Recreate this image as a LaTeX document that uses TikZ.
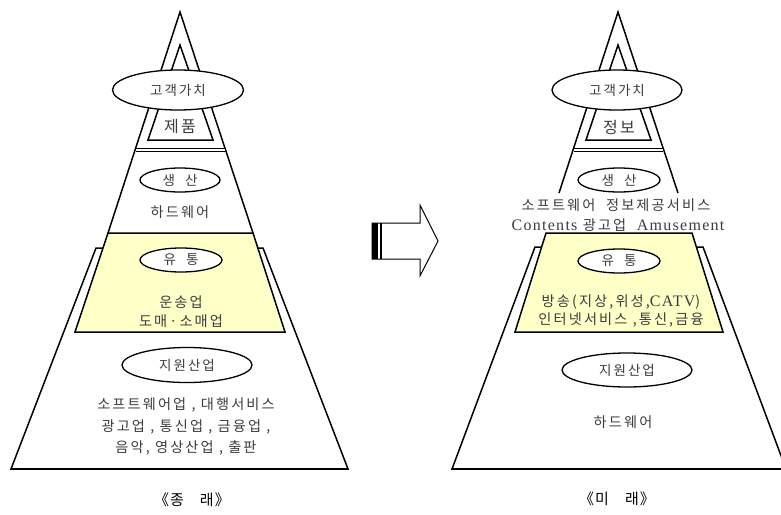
\documentclass[tikz,border=0pt]{standalone}
\usepackage{fontspec}
\setmainfont{Noto Sans CJK KR}
\newfontfamily\kr[LetterSpace=15]{Noto Sans CJK KR}
\newfontfamily\latf[LetterSpace=8]{Liberation Serif}
\usetikzlibrary{shapes.geometric}
\definecolor{paleyellow}{RGB}{255,255,200}
\definecolor{txtgray}{RGB}{60,60,60}
\tikzset{
  edge/.style={line width=1.5pt, black, line join=miter},
  baseline/.style={line width=2.6pt, black},
  oval/.style={ellipse, draw, line width=1.3pt, fill=white, inner sep=0pt, text=txtgray, font=\kr\fontsize{13.5}{15}\selectfont},
  lbl/.style={text=txtgray, font=\kr\fontsize{14.2}{16}\selectfont, inner sep=0pt, align=center},
  biglbl/.style={text=txtgray, font=\kr\fontsize{16}{18}\selectfont, inner sep=0pt},
  capt/.style={text=black, font=\fontsize{15}{17}\selectfont, inner sep=0pt},
  latn/.style={font=\latf\fontsize{16}{18}\selectfont},
}
\begin{document}
\begin{tikzpicture}[x=1pt,y=-1pt]
\useasboundingbox (0,0) rectangle (781,514);
\clip (0,0) rectangle (781,514);
% ================= LEFT PYRAMID =================
\draw[edge, fill=white] (96,248) -- (263,248) -- (348,469) -- (11,469) -- cycle;
\draw[baseline] (11,469) -- (348,469);
\draw[edge, fill=paleyellow] (108,233) -- (253,233) -- (285,332) -- (75,332) -- cycle;
\draw[edge] (108,233) -- (180,12) -- (253,233);
\draw[edge] (180,45) -- (148,140) -- (213,140) -- cycle;
\draw[line width=0.9pt, double distance=1.4pt] (136,150) -- (225,150);
\node[oval, minimum width=131pt, minimum height=40pt] (lval) at (178,90) {고객가치};
\node[biglbl] (lprod) at (180,127) {제품};
\node[oval, minimum width=80pt, minimum height=24pt] (lprd) at (180,180) {생\ \ 산};
\node[lbl] (lhw) at (180,212) {하드웨어};
\node[oval, minimum width=82pt, minimum height=24pt] (ldist) at (181,260) {유\ \ 통};
\node[lbl] (ltr1) at (181,302) {운송업};
\node[lbl] (ltr2) at (181,321) {도매·소매업};
\node[oval, minimum width=130pt, minimum height=35pt] (lsup) at (187,365) {지원산업};
\node[lbl] (ls1) at (186,405) {소프트웨어업 , 대행서비스};
\node[lbl] (ls2) at (186,427) {광고업 , 통신업 , 금융업 ,};
\node[lbl] (ls3) at (186,448) {음악, 영상산업 , 출판};
\node[capt] (lcap) at (192,500) {《\hspace{1pt}종\hspace{16pt}래\hspace{1pt}》};
% ================= ARROW =================
\draw[line width=1pt, fill=white] (372,223) -- (420,223) -- (420,205) -- (438,241) -- (420,276) -- (420,259) -- (372,259) -- cycle;
\fill[black] (372,223) rectangle (377.5,259);
\draw[line width=1.2pt] (381,223) -- (381,259);
% ================= RIGHT PYRAMID =================
\draw[edge, fill=white] (535,247) -- (703,247) -- (786,469) -- (452,469) -- cycle;
\draw[baseline] (452,469) -- (786,469);
\draw[edge, fill=paleyellow] (546,233) -- (692,233) -- (723,332) -- (515,332) -- cycle;
\draw[edge] (559,193) -- (618,12) -- (678,193);
\draw[edge] (618,45) -- (586,140) -- (651,140) -- cycle;
\draw[line width=0.9pt, double distance=1.4pt] (574,150) -- (663,150);
\node[oval, minimum width=130pt, minimum height=40pt] (rval) at (617,90) {고객가치};
\node[biglbl] (rinfo) at (619,127) {정보};
\node[oval, minimum width=82pt, minimum height=24pt] (rprd) at (619,180) {생\ \ 산};
\node[lbl] (rp1) at (616,205) {소프트웨어\ \ 정보제공서비스};
\node[lbl] (rp2) at (618,225) {{\latf\fontsize{16}{18}\selectfont Contents} 광고업\ \ {\latf\fontsize{16}{18}\selectfont Amusement}};
\node[oval, minimum width=82pt, minimum height=24pt] (rdist) at (619,261) {유\ \ 통};
\node[lbl] (rd1) at (621,302) {방송(지상,위성,{\latf\fontsize{16}{18}\selectfont CATV})};
\node[lbl] (rd2) at (621,320) {인터넷서비스 ,통신,금융};
\node[oval, minimum width=130pt, minimum height=34pt] (rsup) at (627,370) {지원산업};
\node[lbl] (rhw) at (623,422) {하드웨어};
\node[capt] (rcap) at (617,499) {《\hspace{1pt}미\hspace{16pt}래\hspace{1pt}》};
\end{tikzpicture}
\end{document}
